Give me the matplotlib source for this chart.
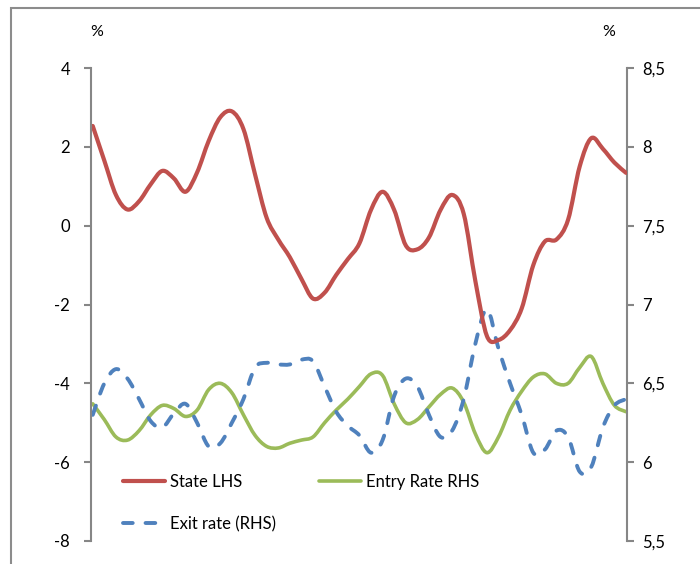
import numpy as np
import matplotlib
matplotlib.use("Agg")
import matplotlib.pyplot as plt
from matplotlib.patches import Rectangle, PathPatch
from matplotlib.path import Path
from matplotlib.lines import Line2D

state_lhs = [2.53, 1.65, 0.78, 0.41, 0.62, 1.05, 1.39, 1.2, 0.86, 1.35,
             2.15, 2.75, 2.9, 2.45, 1.3, 0.2, -0.35, -0.8, -1.35, -1.85,
             -1.7, -1.25, -0.85, -0.45, 0.4, 0.86, 0.4, -0.5, -0.6, -0.3,
             0.4, 0.78, 0.3, -1.4, -2.8, -2.9, -2.65, -2.1, -1.0, -0.4,
             -0.35, 0.15, 1.5, 2.22, 1.95, 1.6, 1.34]
entry_rhs = [6.37, 6.27, 6.16, 6.14, 6.2, 6.3, 6.36, 6.34, 6.29, 6.33,
             6.46, 6.5, 6.44, 6.3, 6.17, 6.1, 6.09, 6.12, 6.14, 6.16,
             6.25, 6.33, 6.4, 6.48, 6.56, 6.55, 6.37, 6.25, 6.27, 6.35,
             6.43, 6.47, 6.38, 6.18, 6.06, 6.16, 6.33, 6.45, 6.54, 6.56,
             6.5, 6.5, 6.6, 6.67, 6.5, 6.36, 6.32]
exit_rhs = [6.30, 6.50, 6.59, 6.53, 6.40, 6.26, 6.22, 6.31, 6.37, 6.25,
            6.10, 6.12, 6.25, 6.40, 6.60, 6.63, 6.62, 6.62, 6.65, 6.64,
            6.48, 6.32, 6.23, 6.17, 6.06, 6.14, 6.42, 6.53, 6.48, 6.30,
            6.16, 6.20, 6.40, 6.75, 6.97, 6.72, 6.50, 6.30, 6.06, 6.08,
            6.20, 6.16, 5.94, 5.97, 6.22, 6.36, 6.40]

left_ticks = [-8, -6, -4, -2, 0, 2, 4]
right_ticks = [5.5, 6, 6.5, 7, 7.5, 8, 8.5]
right_labels = ["5,5", "6", "6,5", "7", "7,5", "8", "8,5"]

plt.rcParams['font.family'] = ['Lato', 'DejaVu Sans']
plt.rcParams['axes.unicode_minus'] = False
grey = '#868686'


def smooth_path(xs, ys):
    # Excel-style smoothed line: cubic Bezier segments through the data points
    p = np.column_stack([xs, ys]).astype(float)
    q = np.vstack([p[0], p, p[-1]])
    verts = [p[0]]
    codes = [Path.MOVETO]
    for i in range(len(p) - 1):
        c1 = q[i + 1] + (q[i + 2] - q[i]) / 6
        c2 = q[i + 2] - (q[i + 3] - q[i + 1]) / 6
        verts += [c1, c2, q[i + 2]]
        codes += [Path.CURVE4] * 3
    return Path(verts, codes)


fig = plt.figure(figsize=(7, 5.64), dpi=100)
ax = fig.add_axes([0.13, 0.0408, 0.766, 0.8386])
ax2 = ax.twinx()

x = np.arange(len(state_lhs))
styles = [
    (ax, state_lhs, dict(color='#C0504D', lw=3, linestyle='-'), 'State LHS'),
    (ax2, entry_rhs, dict(color='#9BBB59', lw=2.6, linestyle='-'), 'Entry Rate RHS'),
    (ax2, exit_rhs, dict(color='#4F81BD', lw=2.8, linestyle=(0, (2.5, 3.3))), 'Exit rate (RHS)'),
]
handles = {}
for a, ys, st, name in styles:
    patch = PathPatch(smooth_path(x, ys), fill=False, edgecolor=st['color'],
                      lw=st['lw'], linestyle=st['linestyle'], capstyle='round',
                      joinstyle='round')
    a.add_patch(patch)
    handles[name] = Line2D([], [], color=st['color'], lw=st['lw'],
                           linestyle=st['linestyle'], dash_capstyle='round',
                           solid_capstyle='round')

ax.set_zorder(ax2.get_zorder() + 1)
ax.patch.set_visible(False)

ax.set_xlim(-0.15, len(x) - 0.9)
ax2.set_xlim(-0.15, len(x) - 0.9)
ax.set_ylim(-8, 4)
ax2.set_ylim(5.5, 8.5)
ax.set_xticks([])
ax.set_yticks(left_ticks)
ax2.set_yticks(right_ticks)
ax2.set_yticklabels(right_labels)

for a in (ax, ax2):
    for s in ('top', 'bottom'):
        a.spines[s].set_visible(False)
    a.tick_params(axis='y', colors=grey, labelcolor='black', labelsize=12,
                  width=1.5, length=5)
ax.spines['left'].set_color(grey)
ax.spines['left'].set_linewidth(1.5)
ax.spines['right'].set_visible(False)
ax2.spines['left'].set_visible(False)
ax2.spines['right'].set_color(grey)
ax2.spines['right'].set_linewidth(1.5)
ax.tick_params(axis='y', pad=10)
ax2.tick_params(axis='y', pad=6)

fig.text(97 / 700, 1 - 32 / 564, '%', ha='center', va='center', fontsize=11.5)
fig.text(609 / 700, 1 - 32 / 564, '%', ha='center', va='center', fontsize=11.5)

order = ['State LHS', 'Exit rate (RHS)', 'Entry Rate RHS']
ax.legend([handles[n] for n in order], order,
          ncol=2, frameon=False, fontsize=12, handlelength=2.5,
          handletextpad=0.3, columnspacing=2.6, labelspacing=1.55,
          borderpad=0, borderaxespad=0, loc='upper left',
          bbox_to_anchor=(123 / 700, 1 - 474 / 564),
          bbox_transform=fig.transFigure)

fig.add_artist(Rectangle((11 / 700, -0.05), 1.0, 1 - 8 / 564 + 0.05,
                         transform=fig.transFigure, fill=False,
                         edgecolor='#8c8c8c', lw=1.5))

fig.savefig('out.png', dpi=100)
